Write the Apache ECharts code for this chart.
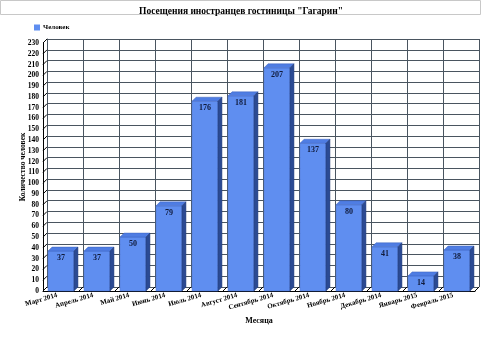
<!DOCTYPE html>
<html>
<head>
<meta charset="utf-8">
<script src="https://cdn.jsdelivr.net/npm/echarts@6/dist/echarts.min.js"></script>
<style>
  html, body { margin: 0; padding: 0; background: #fff; }
  #chart { width: 482px; height: 354px; }
</style>
</head>
<body>
<div id="chart"></div>
<script>
  // месяцы и посещения
  var months = ['Март 2014', 'Апрель 2014', 'Май 2014', 'Июнь 2014', 'Июль 2014', 'Август 2014',
    'Сентябрь 2014', 'Октябрь 2014', 'Ноябрь 2014', 'Декабрь 2014', 'Январь 2015', 'Февраль 2015']
  var visitors = [37, 37, 50, 79, 176, 181, 207, 137, 80, 41, 14, 38]
  var yTicks = [0, 10, 20, 30, 40, 50, 60, 70, 80, 90, 100, 110, 120, 130, 140, 150, 160, 170, 180, 190, 200, 210, 220, 230]

  var font = 'Liberation Serif'
  var depth = 4
  var myChart = echarts.init(document.getElementById('chart'))

  var option = {
    backgroundColor: '#fff',
    animation: false,
    graphic: [{
      type: 'rect',
      shape: { x: 0.5, y: 0.5, width: 480, height: 14 },
      style: { fill: '#fff', stroke: '#c8c8c8', lineWidth: 1 }
    }],
    title: {
      text: 'Посещения иностранцев гостиницы "Гагарин"',
      left: 'center',
      top: 2,
      textStyle: { fontFamily: font, fontWeight: 'bold', fontSize: 9.5, color: '#000' }
    },
    legend: {
      left: 29,
      top: 19,
      itemWidth: 6,
      itemHeight: 6,
      itemGap: 4,
      icon: 'rect',
      data: ['Человек'],
      textStyle: { fontFamily: font, fontWeight: 'bold', fontSize: 7, color: '#000', padding: [0, 0, 0, -2] }
    },
    grid: [
      // задняя стенка
      { left: 47, right: 3, top: 39, bottom: 67 },
      // передние оси
      { left: 43, right: 7, top: 43, bottom: 63 }
    ],
    xAxis: [{
      gridIndex: 0,
      type: 'category',
      data: months,
      axisLine: { show: false },
      axisTick: { show: false },
      axisLabel: { show: false, interval: 0 },
      splitLine: { show: true, interval: 0, lineStyle: { color: '#4a5560', width: 1 } }
    }, {
      gridIndex: 1,
      type: 'category',
      data: months,
      name: 'Месяца',
      nameLocation: 'middle',
      nameGap: 22,
      nameTextStyle: { fontFamily: font, fontWeight: 'bold', fontSize: 8, color: '#000' },
      axisLine: { lineStyle: { color: '#000', width: 1 } },
      axisTick: { show: false },
      axisLabel: {
        interval: 0,
        rotate: 16,
        margin: 3,
        padding: [0, 4, 0, 0],
        fontFamily: font,
        fontWeight: 'bold',
        fontSize: 7,
        color: '#000'
      }
    }],
    yAxis: [{
      gridIndex: 0,
      type: 'value',
      min: 0,
      max: 230,
      interval: 10,
      axisLine: { show: true, lineStyle: { color: '#4a5560' } },
      axisTick: { show: false },
      axisLabel: { show: false },
      splitLine: { show: true, lineStyle: { color: '#4a5560', width: 1 } }
    }, {
      gridIndex: 1,
      type: 'value',
      min: 0,
      max: 230,
      interval: 10,
      name: 'Количество человек',
      nameLocation: 'middle',
      nameMoveOverlap: false,
      nameGap: 16,
      nameTextStyle: { fontFamily: font, fontWeight: 'bold', fontSize: 7.5, color: '#000' },
      axisLine: { show: true, lineStyle: { color: '#000' } },
      axisTick: { show: false },
      splitLine: { show: false },
      axisLabel: { margin: 4, fontFamily: font, fontWeight: 'bold', fontSize: 7.5, color: '#000' }
    }],
    series: [{
      // диагональные засечки на оси Y
      type: 'custom',
      xAxisIndex: 1,
      yAxisIndex: 1,
      silent: true,
      data: yTicks.map(function (t) { return [0, t] }),
      renderItem: function (params, api) {
        var p = api.coord([0, api.value(1)])
        var x = params.coordSys.x
        return {
          type: 'line',
          shape: { x1: x, y1: p[1], x2: x + depth, y2: p[1] - depth },
          style: { stroke: '#000', lineWidth: 1 }
        }
      }
    }, {
      name: 'Человек',
      type: 'custom',
      xAxisIndex: 1,
      yAxisIndex: 1,
      itemStyle: { color: '#5f8ef0' },
      data: visitors.map(function (v, i) { return [i, v] }),
      renderItem: function (params, api) {
        var i = api.value(0)
        var v = api.value(1)
        var base = api.coord([i, 0])
        var top = api.coord([i, v])
        var cat = api.size([1, 0])[0]
        var bw = cat * 0.72
        var x0 = base[0] - bw / 2
        var ty = top[1]
        var by = base[1]
        var left = base[0] - cat / 2
        var children = [{
          type: 'line',
          shape: { x1: left, y1: by, x2: left + depth, y2: by - depth },
          style: { stroke: '#000', lineWidth: 1 }
        }, {
          type: 'rect',
          shape: { x: x0, y: ty, width: bw, height: by - ty },
          style: { fill: '#5f8ef0', stroke: '#4a72d0', lineWidth: 0.5 }
        }, {
          type: 'polygon',
          shape: { points: [[x0, ty], [x0 + depth, ty - depth], [x0 + bw + depth, ty - depth], [x0 + bw, ty]] },
          style: { fill: '#4f7de3', stroke: '#3d63bd', lineWidth: 0.5 }
        }, {
          type: 'polygon',
          shape: { points: [[x0 + bw, ty], [x0 + bw + depth, ty - depth], [x0 + bw + depth, by - depth], [x0 + bw, by]] },
          style: { fill: '#2b4a93', stroke: '#233d7a', lineWidth: 0.5 }
        }, {
          type: 'text',
          style: {
            x: base[0], y: ty + 3,
            text: String(v),
            align: 'center',
            verticalAlign: 'top',
            fill: '#101a3a',
            font: 'bold 8px "Liberation Serif"'
          }
        }]
        if (i === months.length - 1) {
          var right = base[0] + cat / 2
          children.push({
            type: 'line',
            shape: { x1: right, y1: by, x2: right + depth, y2: by - depth },
            style: { stroke: '#000', lineWidth: 1 }
          })
        }
        return { type: 'group', children: children }
      }
    }]
  }
  myChart.setOption(option)
</script>
</body>
</html>
